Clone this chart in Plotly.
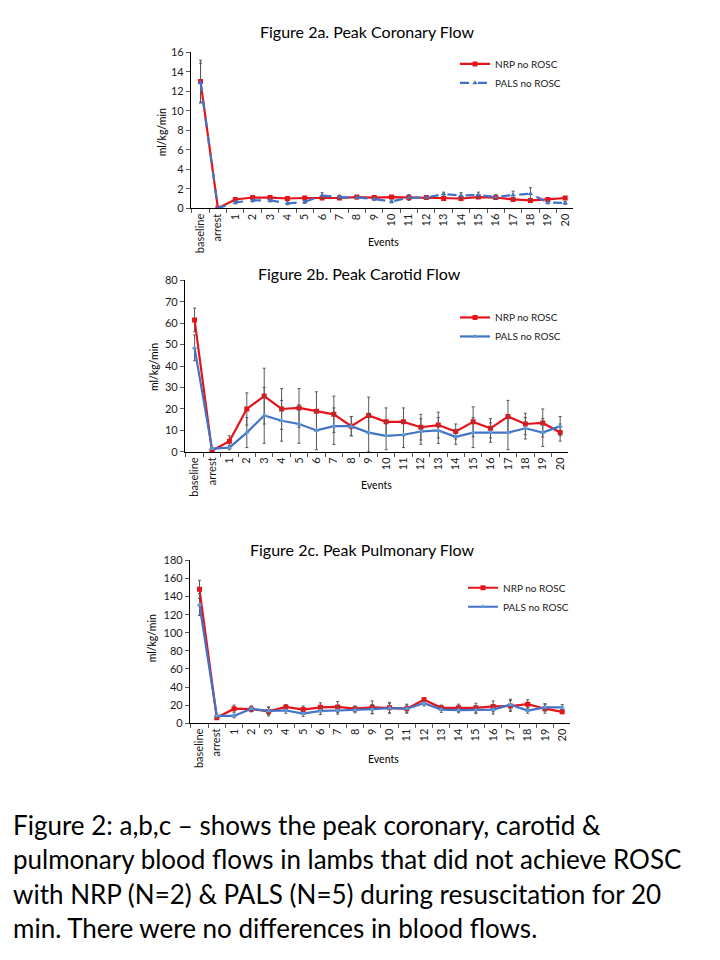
import plotly.graph_objects as go

categories = ["baseline", "arrest"] + [str(i) for i in range(1, 21)]

# Figure 2a. Peak Coronary Flow
cor_nrp = [13.0, 0.0, 0.9, 1.1, 1.1, 1.0, 1.05, 1.05, 1.05, 1.15, 1.1, 1.15, 1.1, 1.1, 1.0, 1.0, 1.15, 1.1, 0.9, 0.8, 0.9, 1.05]
cor_nrp_err = [2.2, 0.0, 0.1, 0.1, 0.1, 0.1, 0.1, 0.1, 0.1, 0.1, 0.1, 0.1, 0.1, 0.1, 0.1, 0.1, 0.1, 0.1, 0.1, 0.1, 0.1, 0.1]
cor_pals = [12.9, 0.0, 0.6, 0.8, 0.8, 0.5, 0.65, 1.3, 1.15, 1.1, 0.95, 0.7, 1.1, 1.1, 1.45, 1.3, 1.35, 1.15, 1.35, 1.5, 0.6, 0.55]
cor_pals_err = [2.0, 0.0, 0.15, 0.15, 0.15, 0.15, 0.15, 0.3, 0.2, 0.15, 0.15, 0.15, 0.3, 0.15, 0.2, 0.3, 0.3, 0.25, 0.4, 0.6, 0.15, 0.15]

# Figure 2b. Peak Carotid Flow
car_nrp = [61.5, 0.5, 5, 20, 26, 20, 20.5, 19, 17.5, 12, 17, 14, 14, 11.5, 12.5, 9.5, 14, 11, 16.5, 13, 13.5, 9]
car_nrp_err = [5.5, 0.5, 2.5, 7.5, 13, 9.5, 9, 9, 8.5, 4.5, 8.5, 6.5, 6.5, 6, 6, 3.5, 7, 4.5, 7.5, 5, 6.5, 4]
car_pals = [48.5, 1.5, 2, 9, 17, 14.5, 13, 10, 12, 12, 9, 7.5, 8, 9.5, 10, 7, 9, 9, 9, 11, 9, 12]
car_pals_err = [6, 0.5, 1, 7, 13, 9.5, 9, 9, 8.5, 4.5, 9, 6.5, 6, 6, 6, 3.5, 7, 4.5, 8, 5, 6.5, 4.5]

# Figure 2c. Peak Pulmonary Flow
pul_nrp = [148, 6, 16, 15.5, 13, 18, 15, 17.5, 18, 16, 17.5, 17, 16, 26, 17, 17, 17, 18.5, 19, 21, 16, 12.5]
pul_nrp_err = [10, 1.5, 4, 3, 5, 2.5, 4, 5, 6, 3, 7, 6, 5, 2, 3, 4, 5, 6, 6, 5, 5, 2]
pul_pals = [131, 8, 8, 16, 13.5, 14, 10.5, 13.5, 14, 14.5, 15.5, 16.5, 16, 22, 15, 14.5, 14.5, 15, 20.5, 14, 17.5, 17.5]
pul_pals_err = [12, 2, 2, 3, 4, 3, 3, 4, 4, 3, 5, 5, 4, 3, 3, 3, 4, 5, 6, 3, 4, 3]

series_names = ["NRP no ROSC", "PALS no ROSC"]
panel_titles = ["Figure 2a. Peak Coronary Flow", "Figure 2b. Peak Carotid Flow", "Figure 2c. Peak Pulmonary Flow"]
y_ranges = [[0, 16], [0, 80], [0, 180]]
y_dticks = [2, 10, 20]
caption_lines = [
    "Figure 2: a,b,c \u2013 shows the peak coronary, carotid &",
    "pulmonary blood flows in lambs that did not achieve ROSC",
    "with NRP (N=2) & PALS (N=5) during resuscitation for 20",
    "min. There were no differences in blood flows.",
]

W, H = 720, 960
FONT = "Lato"
RED = "#E5141B"
BLUE_LINE = "#4472C4"
BLUE_MK = "#5B9BD5"
ERR = "#595959"

def px_x(v):
    return v / W

def px_y(v):
    return 1 - v / H

panels = [
    dict(nrp=cor_nrp, nrp_e=cor_nrp_err, pals=cor_pals, pals_e=cor_pals_err,
         xd=[191, 573], yd=[46, 204], dash="dash", blue_mk=BLUE_LINE,
         title=(367, 25), ytitle=(162, 127), xtitle=(383, 238), legend=(455, 43)),
    dict(nrp=car_nrp, nrp_e=car_nrp_err, pals=car_pals, pals_e=car_pals_err,
         xd=[185, 568], yd=[277, 451], dash="solid", blue_mk=BLUE_MK,
         title=(359, 270), ytitle=(154, 365), xtitle=(376, 485), legend=(455, 300)),
    dict(nrp=pul_nrp, nrp_e=pul_nrp_err, pals=pul_pals, pals_e=pul_pals_err,
         xd=[190, 570], yd=[561, 726], dash="solid", blue_mk=BLUE_MK,
         title=(362, 550), ytitle=(152, 640), xtitle=(383, 762), legend=(463, 574)),
]

fig = go.Figure()
annotations = []
layout = {}

for i, p in enumerate(panels):
    n = i + 1
    xa = "x" if n == 1 else f"x{n}"
    ya = "y" if n == 1 else f"y{n}"
    lg = "legend" if n == 1 else f"legend{n}"
    fig.add_trace(go.Scatter(
        x=categories, y=p["nrp"], name=series_names[0], xaxis=xa, yaxis=ya, legend=lg,
        mode="lines+markers", line=dict(color=RED, width=2.2),
        marker=dict(symbol="square", size=5, color=RED),
        error_y=dict(type="data", array=p["nrp_e"], visible=True, color=ERR, thickness=1, width=1.5),
    ))
    fig.add_trace(go.Scatter(
        x=categories, y=p["pals"], name=series_names[1], xaxis=xa, yaxis=ya, legend=lg,
        mode="lines+markers", line=dict(color=BLUE_LINE, width=2.2, dash=p["dash"]),
        marker=dict(symbol="triangle-up", size=5, color=p["blue_mk"]),
        error_y=dict(type="data", array=p["pals_e"], visible=True, color=ERR, thickness=1, width=1.5),
    ))
    xkey = "xaxis" if n == 1 else f"xaxis{n}"
    ykey = "yaxis" if n == 1 else f"yaxis{n}"
    layout[xkey] = dict(
        domain=[px_x(p["xd"][0]), px_x(p["xd"][1])], anchor=ya,
        type="category", categoryorder="array", categoryarray=categories,
        range=[-0.55, 21.45], tickangle=-90, showgrid=False, zeroline=False,
        showline=True, linecolor="#000000", linewidth=1.2,
        ticks="outside", tickson="boundaries", ticklen=4, tickcolor="#595959",
        tickfont=dict(family=FONT, size=11, color="#1a1a1a"), fixedrange=True,
    )
    layout[ykey] = dict(
        domain=[px_y(p["yd"][1]), px_y(p["yd"][0])], anchor=xa,
        range=y_ranges[i], dtick=y_dticks[i], showgrid=False, zeroline=False,
        showline=True, linecolor="#000000", linewidth=1.2,
        ticks="outside", ticklen=4, tickcolor="#595959",
        tickfont=dict(family=FONT, size=11, color="#1a1a1a"), fixedrange=True,
    )
    layout[lg] = dict(
        x=px_x(p["legend"][0]), y=px_y(p["legend"][1]), xanchor="left", yanchor="top",
        bgcolor="rgba(0,0,0,0)", font=dict(family=FONT, size=10, color="#1a1a1a"),
        itemwidth=30, tracegroupgap=0,
    )
    annotations.append(dict(
        text=panel_titles[i], x=px_x(p["title"][0]), y=px_y(p["title"][1]),
        xref="paper", yref="paper", showarrow=False, xanchor="center", yanchor="middle",
        font=dict(family=FONT, size=16, color="#000000"),
    ))
    annotations.append(dict(
        text="ml/kg/min", x=px_x(p["ytitle"][0]), y=px_y(p["ytitle"][1]),
        xref="paper", yref="paper", showarrow=False, xanchor="center", yanchor="middle",
        textangle=-90, font=dict(family=FONT, size=10.5, color="#000000"),
    ))
    annotations.append(dict(
        text="Events", x=px_x(p["xtitle"][0]), y=px_y(p["xtitle"][1]),
        xref="paper", yref="paper", showarrow=False, xanchor="center", yanchor="middle",
        font=dict(family=FONT, size=10.5, color="#000000"),
    ))

cap_y = [829, 864, 899, 934]
for line, yy in zip(caption_lines, cap_y):
    annotations.append(dict(
        text=line, x=px_x(11), y=px_y(yy), xref="paper", yref="paper",
        showarrow=False, xanchor="left", yanchor="middle",
        font=dict(family=FONT, size=26, color="#000000"),
    ))

fig.update_layout(
    width=W, height=H, margin=dict(l=0, r=0, t=0, b=0),
    paper_bgcolor="#ffffff", plot_bgcolor="#ffffff",
    showlegend=True, annotations=annotations, **layout,
)

fig.write_html(
    "out.html",
    config={"displayModeBar": False},
    post_script="document.body.style.margin='0';document.body.style.padding='0';document.body.style.overflow='hidden';",
)
